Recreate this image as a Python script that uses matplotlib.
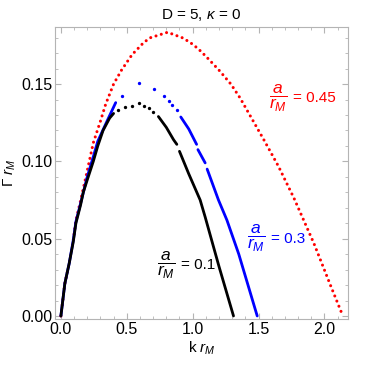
import matplotlib
matplotlib.use('Agg')
import matplotlib.pyplot as plt
from matplotlib.ticker import MultipleLocator

plt.rcParams['font.family'] = ['Liberation Sans', 'DejaVu Sans']
plt.rcParams['mathtext.fontset'] = 'custom'
plt.rcParams['mathtext.rm'] = 'Liberation Sans'
plt.rcParams['mathtext.it'] = 'Liberation Sans:italic'

# a/r_M = 0.45 (red, dotted)
red_k = [0.0, 0.03, 0.063, 0.094, 0.114, 0.145, 0.195, 0.246, 0.30, 0.34, 0.40, 0.46, 0.54,
         0.63, 0.68, 0.81, 0.92, 0.98, 1.04, 1.10, 1.20, 1.29, 1.36, 1.44, 1.54,
         1.65, 1.77, 1.92, 2.05, 2.14]
red_g = [0.0, 0.021, 0.034, 0.049, 0.062, 0.073, 0.092, 0.112, 0.126, 0.137, 0.150, 0.159, 0.169,
         0.177, 0.180, 0.1835, 0.180, 0.177, 0.173, 0.168, 0.159, 0.150, 0.141, 0.129, 0.114,
         0.097, 0.076, 0.047, 0.019, 0.0]

# a/r_M = 0.3 (blue): solid pieces plus sparse points near the top
blue_segs = [
    ([0.0, 0.03, 0.063, 0.094, 0.114, 0.15, 0.20, 0.246, 0.28, 0.35, 0.416],
     [0.0, 0.021, 0.034, 0.049, 0.061, 0.073, 0.090, 0.103, 0.113, 0.126, 0.138]),
    ([0.91, 0.97, 1.03], [0.1287, 0.121, 0.111]),
    ([1.04, 1.095], [0.1076, 0.099]),
    ([1.11, 1.196, 1.26, 1.35, 1.49], [0.095, 0.075, 0.062, 0.040, 0.0]),
]
blue_pk = [0.466, 0.596, 0.71, 0.78, 0.82, 0.845, 0.88]
blue_pg = [0.1425, 0.1507, 0.147, 0.1425, 0.139, 0.1367, 0.1334]

# a/r_M = 0.1 (black)
black_segs = [
    ([0.0, 0.03, 0.063, 0.094, 0.114, 0.15, 0.17, 0.20, 0.246, 0.28, 0.32, 0.37, 0.40],
     [0.0, 0.021, 0.034, 0.048, 0.060, 0.072, 0.080, 0.088, 0.100, 0.110, 0.120, 0.128, 0.131]),
    ([0.74, 0.80, 0.855, 0.88], [0.129, 0.122, 0.114, 0.111]),
    ([0.90, 0.97, 1.057, 1.095, 1.20, 1.31], [0.1065, 0.092, 0.075, 0.064, 0.032, 0.0]),
]
black_pk = [0.436, 0.49, 0.54, 0.596, 0.63, 0.67, 0.70]
black_pg = [0.133, 0.135, 0.1356, 0.138, 0.136, 0.1345, 0.132]

# curve labels: (k, Gamma) of the fraction's left edge, value, colour
label_k = [1.58, 1.41, 0.727]
label_g = [0.141, 0.050, 0.033]
label_val = ['0.45', '0.3', '0.1']
label_col = ['#ff0000', '#0000ff', 'black']

fig = plt.figure(figsize=(3.68, 3.68), dpi=100)
ax = fig.add_axes([0.149, 0.133, 0.797, 0.794])

ax.plot(red_k, red_g, color='#ff0000', lw=2.2, linestyle=(0, (0.01, 1.8)),
        dash_capstyle='round')
for k, g in blue_segs:
    ax.plot(k, g, color='#0000ff', lw=2.0, solid_capstyle='round')
ax.plot(blue_pk, blue_pg, 'o', color='#0000ff', ms=2.4, mew=0)
for k, g in black_segs:
    ax.plot(k, g, color='black', lw=2.0, solid_capstyle='round')
ax.plot(black_pk, black_pg, 'o', color='black', ms=2.4, mew=0)

for k, g, v, c in zip(label_k, label_g, label_val, label_col):
    ax.text(k, g, r'$\dfrac{a}{r_M}$', color=c, fontsize=12.5, ha='left', va='center')
    ax.annotate('= ' + v, xy=(k, g), xytext=(17.5, 0), textcoords='offset points',
                color=c, fontsize=11, ha='left', va='center')

ax.set_xlim(-0.046, 2.18)
ax.set_ylim(-0.002, 0.187)
ax.xaxis.set_major_locator(MultipleLocator(0.5))
ax.xaxis.set_minor_locator(MultipleLocator(0.1))
ax.yaxis.set_major_locator(MultipleLocator(0.05))
ax.yaxis.set_minor_locator(MultipleLocator(0.01))
ax.xaxis.set_major_formatter(lambda v, p: f'{v:.1f}')
ax.yaxis.set_major_formatter(lambda v, p: f'{v:.2f}')

for s in ax.spines.values():
    s.set_color('#b4b4b4')
ax.tick_params(which='both', direction='in', top=True, right=True,
               color='#b4b4b4', labelsize=11.5, pad=2)
ax.tick_params(which='major', length=4, width=0.8)
ax.tick_params(which='minor', length=2, width=0.6)

ax.set_xlabel(r'k $r_M$', fontsize=11, labelpad=2)
ax.set_ylabel(r'$\Gamma$ $r_M$', fontsize=11, labelpad=2)
ax.set_title(r'D = 5, $\kappa$ = 0', fontsize=11, pad=6)

fig.savefig('out.png', dpi=100)
